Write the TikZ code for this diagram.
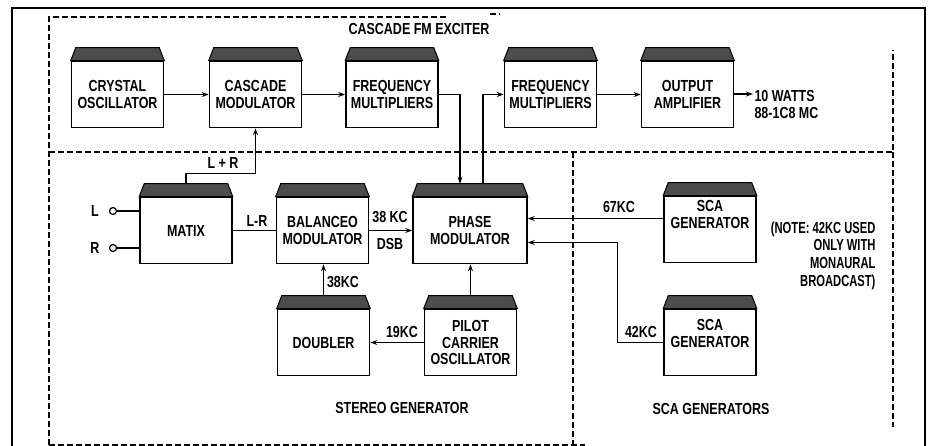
\documentclass[tikz,border=0pt]{standalone}
\usepackage{fontspec}
\setmainfont{Liberation Sans}
\newfontfamily\blockfont{Liberation Sans}[FakeStretch=0.78]
\newfontfamily\notefont{Liberation Sans}[FakeStretch=0.7]
\usetikzlibrary{arrows.meta}

\begin{document}
\begin{tikzpicture}[x=1pt, y=-1pt,
    font=\blockfont\bfseries\fontsize{16}{16.5}\selectfont,
    unit/.style={draw, line width=1.6pt, minimum width=92pt, minimum height=66pt,
      inner sep=0pt, align=center},
    lid/.style={draw, line width=1pt, fill=black!70},
    wire/.style={line width=1.3pt},
    sig/.style={wire, -{Stealth[length=7pt,width=5pt]}},
    zone/.style={line width=1.2pt, dash pattern=on 6pt off 3pt},
    jack/.style={circle, draw, line width=1.2pt, inner sep=0pt, minimum size=7pt}]
  \useasboundingbox (0,0) rectangle (929,446);
  % outer frame
  \draw[line width=1.6pt] (12,446) -- (12,8) -- (925,8) -- (925,446);
  % dashed zones
  \draw[zone] (49,445) -- (49,17) -- (447,17);
  \draw[zone] (490,14) -- (500,14);
  \draw[zone] (49,152) -- (893,152) -- (893,50);
  \draw[zone] (893,152) -- (893,427);
  \draw[zone] (573,152) -- (573,445);
  \draw[zone] (49,445) -- (585,445);
  \node (exciter) at (419,29) {CASCADE FM EXCITER};
  \node (stereo) at (402,408) {STEREO GENERATOR};
  \node (scas) at (711,409) {SCA GENERATORS};

  % exciter chain
  \node[unit] (xtal) at (117.5,94.5) {CRYSTAL\\OSCILLATOR};
  \node[unit] (cmod) at (255.5,94.5) {CASCADE\\MODULATOR};
  \node[unit] (fmul1) at (392,94.5) {FREQUENCY\\MULTIPLIERS};
  \node[unit] (fmul2) at (550.5,94.5) {FREQUENCY\\MULTIPLIERS};
  \node[unit] (outamp) at (687.5,94.5) {OUTPUT\\AMPLIFIER};
  \coordinate (outpt) at (753,94);
  \node[anchor=west, align=left] (outlbl) at (751,104.5) {10 WATTS\\88-1C8 MC};

  % stereo generator
  \node[unit] (matrix) at (186,230.5) {MATIX};
  \node[unit] (balmod) at (322.5,230.5) {BALANCEO\\MODULATOR};
  \node[unit, minimum width=114pt] (phmod) at (470,230.5) {PHASE\\MODULATOR};
  \node[unit] (doubler) at (323.5,342.5) {DOUBLER};
  \node[unit] (pilot) at (470.5,342.5) {PILOT\\CARRIER\\OSCILLATOR};
  \node[jack] (lin) at (113,211) {};
  \node[jack] (rin) at (113,248) {};
  \node (ltxt) at (95,211) {L};
  \node (rtxt) at (95,248) {R};

  % sca generators
  \node[unit] (sca1) at (710,229.5) {SCA\\GENERATOR\\[14pt]};
  \node[unit] (sca2) at (710,342.5) {SCA\\GENERATOR\\[2pt]};
  \node[align=right, anchor=east, font=\notefont\bfseries\fontsize{16}{17.7}\selectfont] (note)
    at (879,255.5) {(NOTE: 42KC USED\\ONLY WITH\\MONAURAL\\BROADCAST)};

  % lids
  \foreach \b in {xtal,cmod,fmul1,fmul2,outamp,matrix,balmod,phmod,doubler,pilot,sca1,sca2}
    \filldraw[lid] (\b.north west) -- ([shift={(5pt,13pt)}]\b.north west)
      -- ([shift={(-5pt,13pt)}]\b.north east) -- (\b.north east) -- cycle;

  % connectors
  \draw[sig] (xtal) -- (cmod);
  \draw[sig] (cmod) -- (fmul1);
  \draw[sig] (fmul1.east) -| ([xshift=-10pt,yshift=13pt]phmod.north);
  \draw[sig] ([xshift=13pt,yshift=13pt]phmod.north) |- (fmul2.west);
  \draw[sig] (fmul2) -- (outamp);
  \draw[sig] (outamp.east |- outpt) -- (outpt);
  \draw[sig] ([yshift=13pt]matrix.north) -- ++(0,-10) -| (cmod.south);
  \node (lr) at (223,163) {L + R};
  \draw[wire] (lin) -- (lin -| matrix.west);
  \draw[wire] (rin) -- (rin -| matrix.west);
  \draw[wire] (matrix) -- (balmod);
  \node (lmr) at (257,221) {L-R};
  \draw[sig] (balmod) -- (phmod);
  \node (dsbkc) at (390,217) {38 KC};
  \node (dsb) at (390,244) {DSB};
  \draw[sig] ([yshift=13pt]doubler.north) -- (doubler.north |- balmod.south);
  \node (dblkc) at (343,282) {38KC};
  \draw[sig] ([yshift=13pt]pilot.north) -- (pilot.north |- phmod.south);
  \draw[sig] (pilot) -- (doubler);
  \node (pilkc) at (402,332) {19KC};
  \draw[sig] ([yshift=11pt]sca1.west) -- ([yshift=11pt]sca1.west -| phmod.east);
  \node (kc67) at (619,207) {67KC};
  \draw[sig] (sca2.west) -- ++(-46,0) |- ([yshift=-12pt]phmod.east);
  \node (kc42) at (641,332) {42KC};
\end{tikzpicture}
\end{document}
